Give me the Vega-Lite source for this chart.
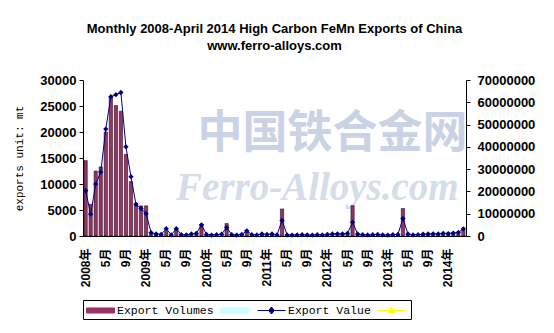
{
  "$schema": "https://vega.github.io/schema/vega-lite/v6.json",
  "autosize": {"type": "none"},
  "width": 383,
  "height": 156,
  "padding": {"left": 83, "top": 80, "right": 88, "bottom": 97},
  "background": "#ffffff",
  "title": {
    "text": ["Monthly 2008-April 2014 High Carbon FeMn Exports of China", "www.ferro-alloys.com"],
    "font": "Liberation Sans",
    "fontSize": 13,
    "fontWeight": "bold",
    "color": "#000000",
    "lineHeight": 17,
    "anchor": "middle",
    "offset": 21
  },
  "data": {
    "values": [
      {"m": "2008-01", "vol": 14500, "val": 20300000},
      {"m": "2008-02", "vol": 6100, "val": 9800000},
      {"m": "2008-03", "vol": 12500, "val": 23300000},
      {"m": "2008-04", "vol": 13300, "val": 28700000},
      {"m": "2008-05", "vol": 20000, "val": 48000000},
      {"m": "2008-06", "vol": 26800, "val": 62500000},
      {"m": "2008-07", "vol": 25100, "val": 63400000},
      {"m": "2008-08", "vol": 24000, "val": 64400000},
      {"m": "2008-09", "vol": 15700, "val": 40000000},
      {"m": "2008-10", "vol": 10500, "val": 26600000},
      {"m": "2008-11", "vol": 6300, "val": 14200000},
      {"m": "2008-12", "vol": 5800, "val": 12300000},
      {"m": "2009-01", "vol": 5800, "val": 10000000},
      {"m": "2009-02", "vol": 400, "val": 1500000},
      {"m": "2009-03", "vol": 250, "val": 900000},
      {"m": "2009-04", "vol": 200, "val": 700000},
      {"m": "2009-05", "vol": 900, "val": 3300000},
      {"m": "2009-06", "vol": 150, "val": 500000},
      {"m": "2009-07", "vol": 1500, "val": 3300000},
      {"m": "2009-08", "vol": 200, "val": 600000},
      {"m": "2009-09", "vol": 150, "val": 500000},
      {"m": "2009-10", "vol": 300, "val": 900000},
      {"m": "2009-11", "vol": 400, "val": 1200000},
      {"m": "2009-12", "vol": 2200, "val": 5000000},
      {"m": "2010-01", "vol": 250, "val": 700000},
      {"m": "2010-02", "vol": 150, "val": 400000},
      {"m": "2010-03", "vol": 200, "val": 600000},
      {"m": "2010-04", "vol": 300, "val": 800000},
      {"m": "2010-05", "vol": 2400, "val": 3800000},
      {"m": "2010-06", "vol": 250, "val": 600000},
      {"m": "2010-07", "vol": 150, "val": 400000},
      {"m": "2010-08", "vol": 250, "val": 700000},
      {"m": "2010-09", "vol": 1100, "val": 2300000},
      {"m": "2010-10", "vol": 200, "val": 600000},
      {"m": "2010-11", "vol": 150, "val": 500000},
      {"m": "2010-12", "vol": 300, "val": 900000},
      {"m": "2011-01", "vol": 250, "val": 700000},
      {"m": "2011-02", "vol": 300, "val": 900000},
      {"m": "2011-03", "vol": 200, "val": 500000},
      {"m": "2011-04", "vol": 5200, "val": 7000000},
      {"m": "2011-05", "vol": 200, "val": 500000},
      {"m": "2011-06", "vol": 150, "val": 400000},
      {"m": "2011-07", "vol": 200, "val": 500000},
      {"m": "2011-08", "vol": 250, "val": 600000},
      {"m": "2011-09", "vol": 200, "val": 500000},
      {"m": "2011-10", "vol": 150, "val": 400000},
      {"m": "2011-11", "vol": 250, "val": 600000},
      {"m": "2011-12", "vol": 200, "val": 500000},
      {"m": "2012-01", "vol": 250, "val": 700000},
      {"m": "2012-02", "vol": 300, "val": 900000},
      {"m": "2012-03", "vol": 350, "val": 1000000},
      {"m": "2012-04", "vol": 300, "val": 900000},
      {"m": "2012-05", "vol": 400, "val": 1200000},
      {"m": "2012-06", "vol": 5850, "val": 6200000},
      {"m": "2012-07", "vol": 300, "val": 900000},
      {"m": "2012-08", "vol": 200, "val": 600000},
      {"m": "2012-09", "vol": 150, "val": 500000},
      {"m": "2012-10", "vol": 200, "val": 600000},
      {"m": "2012-11", "vol": 250, "val": 700000},
      {"m": "2012-12", "vol": 200, "val": 500000},
      {"m": "2013-01", "vol": 150, "val": 400000},
      {"m": "2013-02", "vol": 200, "val": 600000},
      {"m": "2013-03", "vol": 250, "val": 700000},
      {"m": "2013-04", "vol": 5300, "val": 7800000},
      {"m": "2013-05", "vol": 300, "val": 900000},
      {"m": "2013-06", "vol": 200, "val": 500000},
      {"m": "2013-07", "vol": 250, "val": 600000},
      {"m": "2013-08", "vol": 300, "val": 800000},
      {"m": "2013-09", "vol": 300, "val": 900000},
      {"m": "2013-10", "vol": 350, "val": 1000000},
      {"m": "2013-11", "vol": 300, "val": 900000},
      {"m": "2013-12", "vol": 400, "val": 1200000},
      {"m": "2014-01", "vol": 350, "val": 1100000},
      {"m": "2014-02", "vol": 400, "val": 1300000},
      {"m": "2014-03", "vol": 500, "val": 1600000},
      {"m": "2014-04", "vol": 1300, "val": 3200000}
    ]
  },
  "layer": [
    {
      "layer": [
        {
          "data": {"values": [{}]},
          "mark": {"type": "text", "font": "Noto Sans CJK SC", "fontSize": 45, "fontWeight": "bold", "color": "#c9d3e5"},
          "encoding": {
            "x": {"datum": "2012-02", "type": "ordinal", "title": null},
            "y": {
              "datum": 19700, "type": "quantitative",
              "axis": {"orient": "left", "values": [0, 5000, 10000, 15000, 20000, 25000, 30000], "format": "d", "title": "exports unit: mt", "labelPadding": 3, "titlePadding": 15, "titleFont": "Liberation Mono", "titleFontSize": 11, "titleFontWeight": "normal", "titleColor": "#000000"}
            },
            "text": {"value": "中国铁合金网"}
          }
        },
        {
          "data": {"values": [{}]},
          "mark": {"type": "text", "font": "Liberation Serif", "fontSize": 39, "fontWeight": "bold", "fontStyle": "italic", "color": "#d5dcea"},
          "encoding": {
            "x": {"datum": "2011-11", "type": "ordinal", "title": null},
            "y": {
              "datum": 9300, "type": "quantitative",
              "axis": {"orient": "left", "values": [0, 5000, 10000, 15000, 20000, 25000, 30000], "format": "d", "title": "exports unit: mt", "labelPadding": 3, "titlePadding": 15, "titleFont": "Liberation Mono", "titleFontSize": 11, "titleFontWeight": "normal", "titleColor": "#000000"}
            },
            "text": {"value": "Ferro-Alloys.com"}
          }
        },
        {
          "mark": {"type": "bar", "stroke": "#000000", "strokeWidth": 0.5},
          "encoding": {
            "x": {"field": "m", "type": "ordinal", "title": null, "scale": {"paddingInner": 0.35, "paddingOuter": 0.2}},
            "y": {
              "field": "vol", "type": "quantitative",
              "scale": {"domain": [0, 30000], "nice": false},
              "axis": {"orient": "left", "values": [0, 5000, 10000, 15000, 20000, 25000, 30000], "format": "d", "title": "exports unit: mt", "labelPadding": 3, "titlePadding": 15, "titleFont": "Liberation Mono", "titleFontSize": 11, "titleFontWeight": "normal", "titleColor": "#000000"}
            },
            "color": {
              "datum": "Export Volumes", "type": "nominal",
              "scale": {"domain": ["Export Volumes", "b1", "Export Value", "b2"], "range": ["#993366", "#CCFFFF", "#000080", "#FFFF00"]},
              "legend": {
                "title": null,
                "orient": "bottom",
                "direction": "horizontal",
                "columns": 4,
                "gridAlign": "each",
                "offset": 13,
                "labelFont": "Liberation Mono",
                "labelFontSize": 11.5,
                "labelColor": "#000000",
                "labelOffset": 16,
                "columnPadding": 4,
                "symbolSize": 196,
                "symbolStrokeWidth": 1,
                "strokeColor": "#000000",
                "padding": 3,
                "labelExpr": "(datum.value == 'b1' || datum.value == 'b2') ? '' : datum.label"
              }
            }
          }
        }
      ]
    },
    {
      "layer": [
        {
          "mark": {"type": "line", "strokeWidth": 1, "point": {"shape": "diamond", "size": 28, "filled": true}},
          "encoding": {
            "x": {"field": "m", "type": "ordinal", "title": null},
            "y": {
              "field": "val", "type": "quantitative",
              "scale": {"domain": [0, 70000000], "nice": false},
              "axis": {"orient": "right", "values": [0, 10000000, 20000000, 30000000, 40000000, 50000000, 60000000, 70000000], "format": "d", "title": null, "labelPadding": 7}
            },
            "color": {"datum": "Export Value", "type": "nominal"}
          }
        },
        {
          "data": {"values": []},
          "mark": {"type": "point", "filled": true},
          "encoding": {
            "shape": {
              "datum": "Export Value", "type": "nominal",
              "scale": {"domain": ["Export Volumes", "b1", "Export Value", "b2"], "range": ["M-1,-0.36H3V0.36H-1Z", "M-1,-0.36H3V0.36H-1Z", "M-1,0H3M1,-0.5L1.4,0L1,0.5L0.6,0Z", "M-1,0H3M1,-0.45L1.45,0.3L0.55,0.3Z"]},
              "legend": {
                "title": null,
                "orient": "bottom",
                "direction": "horizontal",
                "columns": 4,
                "gridAlign": "each",
                "offset": 13,
                "labelFont": "Liberation Mono",
                "labelFontSize": 11.5,
                "labelColor": "#000000",
                "labelOffset": 16,
                "columnPadding": 4,
                "symbolSize": 196,
                "symbolStrokeWidth": 1,
                "strokeColor": "#000000",
                "padding": 3,
                "labelExpr": "(datum.value == 'b1' || datum.value == 'b2') ? '' : datum.label"
              }
            }
          }
        }
      ]
    }
  ],
  "resolve": {"scale": {"y": "independent"}},
  "config": {
    "view": {"stroke": null},
    "axis": {
      "domainColor": "#000000",
      "tickColor": "#000000",
      "labelColor": "#000000",
      "grid": false,
      "labelFont": "Liberation Sans",
      "labelFontWeight": "bold",
      "domainWidth": 1
    },
    "axisX": {
      "labelAngle": 270,
      "ticks": false,
      "labelFontSize": 12,
      "labelPadding": 12,
      "labelOverlap": false,
      "labelFont": "Liberation Sans, Noto Sans CJK SC",
      "labelExpr": "substring(datum.value, 5, 7) == '01' ? substring(datum.value, 0, 4) + '年' : (substring(datum.value, 5, 7) == '05' ? '5月' : (substring(datum.value, 5, 7) == '09' ? '9月' : ''))"
    },
    "axisY": {"labelFontSize": 13, "tickSize": 4, "labelOverlap": false}
  }
}
